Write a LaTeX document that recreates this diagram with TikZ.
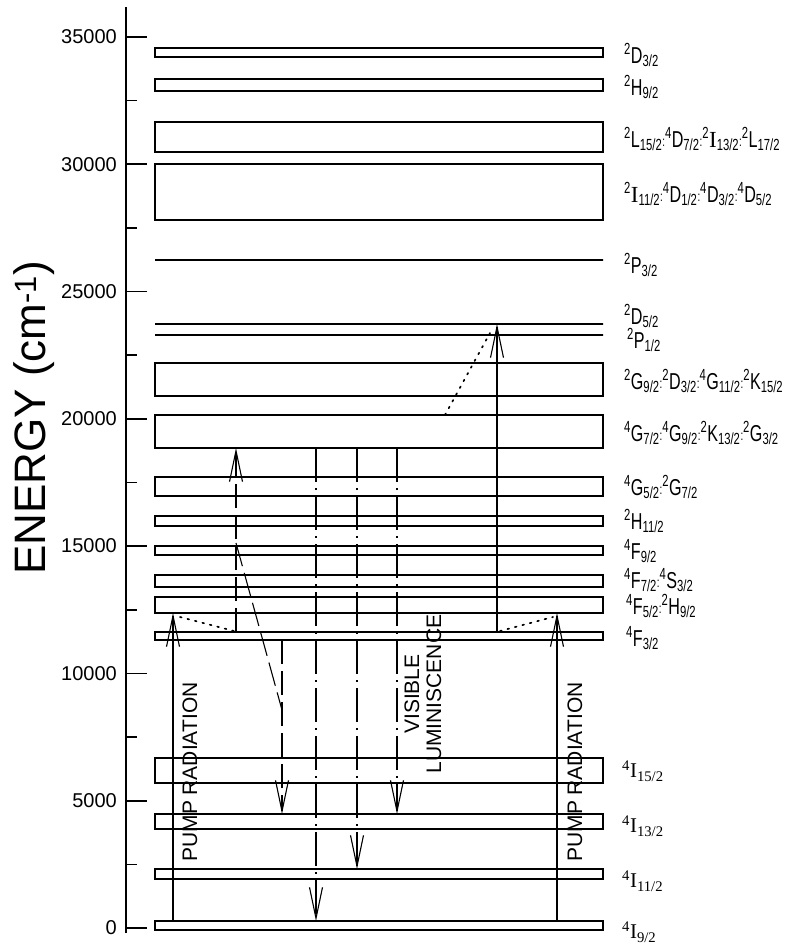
\documentclass[tikz,border=0pt]{standalone}
\usepackage{fontspec}
\setmainfont{Liberation Sans}
\newfontfamily\labfont[FakeStretch=0.7]{Liberation Sans}
\newfontfamily\serfont{Liberation Serif}
\usetikzlibrary{arrows.meta}
\newcommand\lv[3]{\textsuperscript{#1}#2\textsubscript{#3}}
\newcommand\lsep{\raisebox{1pt}{\fontsize{14}{14}\selectfont:}}
\newcommand\sI{{\serfont I}}
\begin{document}
\begin{tikzpicture}[x=1pt,y=-1pt,
  lev/.style={draw, line width=1.3pt, inner sep=0pt, outer sep=0pt, minimum width=448pt, anchor=north west},
  lab/.style={anchor=west, inner sep=0pt, font=\labfont\fontsize{23}{23}\selectfont},
  ilab/.style={anchor=west, inner sep=0pt, font=\serfont\fontsize{21}{21}\selectfont},
  ticklab/.style={anchor=east, inner sep=0pt, font=\fontsize{20}{20}\selectfont},
  vtext/.style={rotate=90, inner sep=0pt, font=\fontsize{21}{22}\selectfont, align=center},
  barb/.style={-{Straight Barb[length=31pt,width=13pt]}},
  solidar/.style={line width=1.1pt, barb},
  dashline/.style={line width=1.1pt, dash pattern=on 24pt off 7pt},
  dashar/.style={dashline, barb},
  dashdot/.style={line width=1.1pt, dash pattern=on 34pt off 6pt on 2pt off 6pt, barb},
  dots/.style={line width=1.7pt, dash pattern=on 1.7pt off 6pt, line cap=round}
]
\useasboundingbox (0,0) rectangle (791,948);

% axis
\draw[line width=1.8pt] (126,7) -- (126,933);
\foreach \k/\t in {0/0,1/5000,2/10000,3/15000,4/20000,5/25000,6/30000,7/35000} {
  \draw[line width=1.6pt] ({126},{928-\k*127.3}) -- ({147},{928-\k*127.3});
  \node[ticklab] (t\k) at ({117},{928-\k*127.3}) {\t};
}
\foreach \k in {0,...,6} {
  \draw[line width=1.6pt] ({126},{864.35-\k*127.3}) -- ({137},{864.35-\k*127.3});
}
\node[rotate=90, inner sep=0pt, font=\fontsize{44}{44}\selectfont] (ylab) at (34,418) {ENERGY (cm\textsuperscript{-1})};

% levels
\node[lev, minimum height=9pt]  (d32)  at (155,48)  {};
\node[lev, minimum height=12pt] (h92)  at (155,79)  {};
\node[lev, minimum height=30pt] (l152) at (155,122) {};
\node[lev, minimum height=56pt] (i112) at (155,164) {};
\node[lev, minimum height=0pt]  (p32)  at (155,260) {};
\node[lev, minimum height=0pt]  (d52)  at (155,324) {};
\node[lev, minimum height=0pt]  (p12)  at (155,335) {};
\node[lev, minimum height=33pt] (g92)  at (155,363) {};
\node[lev, minimum height=33pt] (g72)  at (155,415) {};
\node[lev, minimum height=19pt] (g52)  at (155,477) {};
\node[lev, minimum height=10pt] (h112) at (155,516) {};
\node[lev, minimum height=9pt]  (f92)  at (155,546) {};
\node[lev, minimum height=12pt] (f72)  at (155,575) {};
\node[lev, minimum height=16pt] (f52)  at (155,597) {};
\node[lev, minimum height=8pt]  (f32)  at (155,632) {};
\node[lev, minimum height=25pt] (i152) at (155,758) {};
\node[lev, minimum height=15pt] (i132) at (155,814) {};
\node[lev, minimum height=10pt] (i11g) at (155,869) {};
\node[lev, minimum height=9pt]  (i92)  at (155,921) {};

% level labels
\node[lab] (ld32)  at (624,55)  {\lv{2}{D}{3/2}};
\node[lab] (lh92)  at (624,87)  {\lv{2}{H}{9/2}};
\node[lab] (ll152) at (624,139) {\lv{2}{L}{15/2}\lsep\lv{4}{D}{7/2}\lsep\lv{2}{\sI}{13/2}\lsep\lv{2}{L}{17/2}};
\node[lab] (li112) at (624,194) {\lv{2}{\sI}{11/2}\lsep\lv{4}{D}{1/2}\lsep\lv{4}{D}{3/2}\lsep\lv{4}{D}{5/2}};
\node[lab] (lp32)  at (624,265) {\lv{2}{P}{3/2}};
\node[lab] (ld52)  at (624,316) {\lv{2}{D}{5/2}};
\node[lab] (lp12)  at (627,340) {\lv{2}{P}{1/2}};
\node[lab] (lg92)  at (624,381) {\lv{2}{G}{9/2}\lsep\lv{2}{D}{3/2}\lsep\lv{4}{G}{11/2}\lsep\lv{2}{K}{15/2}};
\node[lab] (lg72)  at (624,433) {\lv{4}{G}{7/2}\lsep\lv{4}{G}{9/2}\lsep\lv{2}{K}{13/2}\lsep\lv{2}{G}{3/2}};
\node[lab] (lg52)  at (624,487) {\lv{4}{G}{5/2}\lsep\lv{2}{G}{7/2}};
\node[lab] (lh112) at (624,521) {\lv{2}{H}{11/2}};
\node[lab] (lf92)  at (624,551) {\lv{4}{F}{9/2}};
\node[lab] (lf72)  at (624,580) {\lv{4}{F}{7/2}\lsep\lv{4}{S}{3/2}};
\node[lab] (lf52)  at (626,606) {\lv{4}{F}{5/2}\lsep\lv{2}{H}{9/2}};
\node[lab] (lf32)  at (626,638) {\lv{4}{F}{3/2}};
\node[ilab] (li152) at (622,771) {\lv{4}{I}{15/2}};
\node[ilab] (li132) at (622,826) {\lv{4}{I}{13/2}};
\node[ilab] (li11g) at (622,881) {\lv{4}{I}{11/2}};
\node[ilab] (li92)  at (622,932) {\lv{4}{I}{9/2}};

% arrow x positions
\coordinate (xpl) at (173,0);
\coordinate (xpr) at (557,0);
\coordinate (xup) at (236,0);
\coordinate (xdn) at (282,0);
\coordinate (xa)  at (316,0);
\coordinate (xb)  at (357,0);
\coordinate (xc)  at (397,0);
\coordinate (xr)  at (497,0);

% transitions
\draw[solidar] (xpl |- i92.north) -- (xpl |- f52.south);
\draw[solidar] (xpr |- i92.north) -- (xpr |- f52.south);
\draw[dashar]  (xup |- f32.north) -- (xup |- g72.south);
\draw[dashar]  (xdn |- f32.south) -- (xdn |- i132.north);
\draw[dashdot] (xa |- g72.south) -- (xa |- i92.north);
\draw[dashdot] (xb |- g72.south) -- (xb |- i11g.north);
\draw[dashdot] (xc |- g72.south) -- (xc |- i132.north);
\draw[solidar] (xr |- f32.north) -- (xr |- d52.center);

\coordinate (dg1) at (236,543);
\coordinate (dg2) at (282,710);
\draw[dashline] (dg1) -- (dg2);

\coordinate (dl1) at (180,617);
\coordinate (dl2) at (234,631);
\draw[dots] (dl1) -- (dl2);
\coordinate (dm1) at (445,415);
\coordinate (dm2) at (490,333);
\draw[dots] (dm1) -- (dm2);
\coordinate (dr1) at (500,631);
\coordinate (dr2) at (553,617);
\draw[dots] (dr1) -- (dr2);

% texts
\node[vtext] (pumpL) at (190,772) {PUMP RADIATION};
\node[vtext] (pumpR) at (575,772) {PUMP RADIATION};
\node[vtext] (vis) at (423,694) {VISIBLE\\LUMINISCENCE};
\end{tikzpicture}
\end{document}
